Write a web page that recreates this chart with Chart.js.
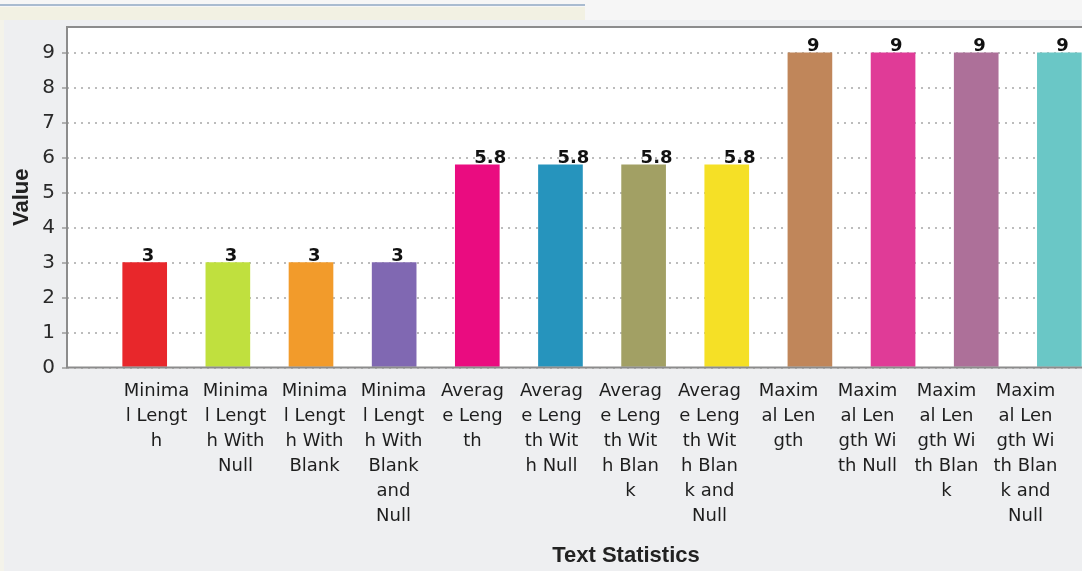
<!DOCTYPE html>
<html>
<head>
<title>Text Statistics</title>
<script src="https://cdn.jsdelivr.net/npm/chart.js"></script>
<style>
    body { margin: 0; width: 1082px; height: 571px; overflow: hidden; background: #f6f6f6; position: relative; }
    #topline { position: absolute; left: 0; top: 4px; width: 585px; height: 2px; background: #a9bbd0; }
    #topband { position: absolute; left: 0; top: 7px; width: 585px; height: 13px; background: #f2f1e3; }
    #panel { position: absolute; left: 0; top: 20px; width: 1200px; height: 551px; background: #eeeff1; }
    #leftstrip { position: absolute; left: 0; top: 20px; width: 4px; height: 551px; background: #f4f3ea; }
    #myChart { position: absolute; left: 0; top: 0; }
</style>
</head>
<body>
<div id="topline"></div>
<div id="topband"></div>
<div id="panel"></div>
<div id="leftstrip"></div>
<canvas id="myChart" width="1200" height="571"></canvas>

<script>
    var categories = ['Minimal Length', 'Minimal Length With Null', 'Minimal Length With Blank',
        'Minimal Length With Blank and Null', 'Average Length', 'Average Length With Null',
        'Average Length With Blank', 'Average Length With Blank and Null', 'Maximal Length',
        'Maximal Length With Null', 'Maximal Length With Blank', 'Maximal Length With Blank and Null'];
    var values = [3, 3, 3, 3, 5.8, 5.8, 5.8, 5.8, 9, 9, 9, 9];
    // category labels as wrapped in the original picture
    var tickLines = [
        ['Minima', 'l Lengt', 'h'],
        ['Minima', 'l Lengt', 'h With', 'Null'],
        ['Minima', 'l Lengt', 'h With', 'Blank'],
        ['Minima', 'l Lengt', 'h With', 'Blank', 'and', 'Null'],
        ['Averag', 'e Leng', 'th'],
        ['Averag', 'e Leng', 'th Wit', 'h Null'],
        ['Averag', 'e Leng', 'th Wit', 'h Blan', 'k'],
        ['Averag', 'e Leng', 'th Wit', 'h Blan', 'k and', 'Null'],
        ['Maxim', 'al Len', 'gth'],
        ['Maxim', 'al Len', 'gth Wi', 'th Null'],
        ['Maxim', 'al Len', 'gth Wi', 'th Blan', 'k'],
        ['Maxim', 'al Len', 'gth Wi', 'th Blan', 'k and', 'Null']
    ];
    var barColors = ['#e8272b', '#c0e03e', '#f29b2b', '#8068b2', '#ea0c80', '#2694bd',
        '#a2a064', '#f5e026', '#c0865a', '#e03b97', '#ad7099', '#6ac7c6'];

    var points = values.map(function (v, i) { return { x: i, y: v }; });

    var plotBg = {
        id: 'plotBg',
        beforeDraw: function (chart) {
            var a = chart.chartArea, c = chart.ctx;
            c.save();
            c.fillStyle = '#ffffff';
            c.fillRect(a.left, a.top, a.right - a.left, a.bottom - a.top);
            c.restore();
        },
        afterDatasetsDraw: function (chart) {
            var a = chart.chartArea, c = chart.ctx;
            c.save();
            c.strokeStyle = '#8c8c8c';
            c.lineWidth = 2;
            c.beginPath();
            c.moveTo(a.right + 20, a.top);
            c.lineTo(a.left, a.top);
            c.lineTo(a.left, a.bottom);
            c.lineTo(a.right + 20, a.bottom);
            c.stroke();
            c.restore();
        }
    };

    var valueLabels = {
        id: 'valueLabels',
        afterDatasetsDraw: function (chart) {
            var c = chart.ctx;
            var meta = chart.getDatasetMeta(0);
            c.save();
            c.font = 'bold 18px "DejaVu Sans"';
            c.fillStyle = '#111111';
            c.textAlign = 'left';
            c.textBaseline = 'alphabetic';
            meta.data.forEach(function (bar, i) {
                c.fillText(String(values[i]), bar.x - 3, bar.y - 2);
            });
            c.restore();
        }
    };

    var ctx = document.getElementById('myChart').getContext('2d');
    var myChart = new Chart(ctx, {
        type: 'bar',
        data: {
            datasets: [{
                label: 'Value',
                data: points,
                backgroundColor: barColors,
                borderWidth: 0,
                barThickness: 44
            }]
        },
        options: {
            responsive: false,
            animation: false,
            devicePixelRatio: 1,
            layout: { padding: { left: 0, right: 15, top: 27, bottom: 0 } },
            plugins: {
                legend: { display: false },
                tooltip: { enabled: false }
            },
            scales: {
                x: {
                    type: 'linear',
                    offset: false,
                    min: -0.9345,
                    max: 12.511,
                    display: false
                },
                x2: {
                    type: 'linear',
                    position: 'bottom',
                    offset: false,
                    min: -1.133,
                    max: 13.019,
                    afterBuildTicks: function (s) {
                        s.ticks = tickLines.map(function (t, i) { return { value: i }; });
                    },
                    afterFit: function (s) { s.height = 203.5; },
                    grid: { display: false, drawTicks: false },
                    border: { display: false },
                    ticks: {
                        autoSkip: false,
                        maxRotation: 0,
                        padding: 11,
                        color: '#1e1e1e',
                        font: { family: 'DejaVu Sans', size: 18, lineHeight: 25 / 18 },
                        callback: function (v) { return tickLines[v]; }
                    },
                    title: {
                        display: true,
                        text: 'Text Statistics',
                        color: '#222222',
                        padding: { top: 0, bottom: 2 },
                        font: { family: 'Liberation Sans', size: 22, weight: 'bold' }
                    }
                },
                y: {
                    min: 0,
                    max: 9.74,
                    afterFit: function (s) { s.width = 67; },
                    grid: {
                        color: '#bcbcbc',
                        lineWidth: 2,
                        tickLength: 5,
                        tickColor: '#b0b0b0',
                        tickWidth: 2,
                        drawOnChartArea: true
                    },
                    border: { display: false, dash: [2, 5] },
                    ticks: {
                        stepSize: 1,
                        includeBounds: false,
                        padding: 7,
                        color: '#2a2a2a',
                        font: { family: 'DejaVu Sans', size: 20 }
                    },
                    title: {
                        display: true,
                        text: 'Value',
                        color: '#222222',
                        padding: { top: 9, bottom: 0 },
                        font: { family: 'Liberation Sans', size: 22, weight: 'bold' }
                    }
                }
            }
        },
        plugins: [plotBg, valueLabels]
    });
</script>
</body>
</html>
